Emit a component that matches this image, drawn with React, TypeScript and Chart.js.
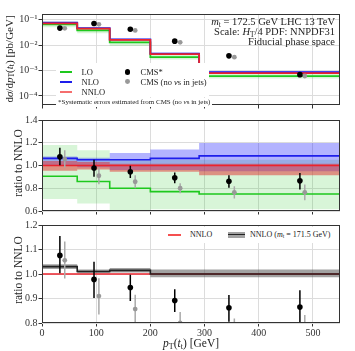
import React, { useEffect, useRef } from "react";
import { Chart, registerables } from "chart.js";

Chart.register(...registerables);

const FONT = "'Liberation Serif', 'DejaVu Serif', serif";

// ---- data ----
const binEdges = [0, 65, 125, 200, 290, 400, 550];
const xTickValues = [0, 100, 200, 300, 400, 500];
const topTickValues = [1e-1, 1e-2, 1e-3, 1e-4];
const topTickLabels = ["10⁻¹", "10⁻²", "10⁻³", "10⁻⁴"];
const midTickValues = [0.6, 0.8, 1.0, 1.2, 1.4];
const bottomTickValues = [0.8, 0.9, 1.0, 1.1, 1.2];

// top panel, dσ/dpT [pb/GeV]
const loXsec = [0.0376, 0.0657, 0.0382, 0.0129, 0.00339, 0.0006];
const loXsecLow = [0.0294, 0.0512, 0.0295, 0.0095, 0.0027, 0.00049];
const loXsecHigh = [0.0487, 0.0857, 0.0504, 0.0169, 0.00462, 0.00084];
const nloXsec = [0.0457, 0.0772, 0.0466, 0.0169, 0.00468, 0.00087];
const nloXsecLow = [0.0424, 0.0726, 0.0435, 0.0155, 0.00422, 0.00076];
const nloXsecHigh = [0.0468, 0.0784, 0.0474, 0.0179, 0.00502, 0.00096];
const nnloXsec = [0.0437, 0.0726, 0.0444, 0.0161, 0.0044, 0.0008];
const nnloXsecLow = [0.0418, 0.069, 0.0426, 0.0152, 0.00416, 0.00073];
const nnloXsecHigh = [0.0450, 0.0748, 0.0453, 0.0163, 0.00447, 0.00081];
const cmsXsec = [0.047, 0.071, 0.042, 0.0144, 0.0038, 0.00069];
const cmsNoNuXsec = [0.0461, 0.0661, 0.0381, 0.0129, 0.00336, 0.00061];

// ratio panel
const loRatio = [0.86, 0.905, 0.86, 0.8, 0.77, 0.75];
const loRatioLow = [0.673, 0.705, 0.665, 0.59, 0.615, 0.615];
const loRatioHigh = [1.114, 1.18, 1.135, 1.05, 1.05, 1.05];
const nloRatio = [1.045, 1.063, 1.05, 1.05, 1.063, 1.085];
const nloRatioLow = [0.97, 1.0, 0.985, 0.96, 0.96, 0.95];
const nloRatioHigh = [1.07, 1.08, 1.068, 1.11, 1.14, 1.198];
const nnloRatio = [1.0, 1.0, 1.0, 1.0, 1.0, 1.0];
const nnloRatioLow = [0.96, 0.953, 0.965, 0.945, 0.945, 0.915];
const nnloRatioHigh = [1.03, 1.04, 1.03, 1.015, 1.015, 1.015];
const nnlo1715Ratio = [1.037, 1.03, 1.01, 1.015, 1.0, 1.0];
const nnlo1715Low = [1.026, 1.02, 1.003, 1.006, 0.987, 0.987];
const nnlo1715High = [1.048, 1.04, 1.018, 1.025, 1.018, 1.018];

// CMS data
const cmsX = [33, 96, 163, 245, 345, 476];
const cmsRatio = [1.076, 0.978, 0.945, 0.892, 0.862, 0.865];
const cmsRatioLow = [1.003, 0.902, 0.89, 0.845, 0.805, 0.79];
const cmsRatioHigh = [1.155, 1.05, 0.997, 0.938, 0.914, 0.934];
const cmsNoNuX = [42, 105, 172, 255, 355, 485];
const cmsNoNuRatio = [1.056, 0.91, 0.857, 0.8, 0.764, 0.764];
const cmsNoNuLow = [0.982, 0.835, 0.8, 0.755, 0.71, 0.695];
const cmsNoNuHigh = [1.133, 0.983, 0.915, 0.845, 0.818, 0.833];

// ---- colours ----
const GREEN = "rgb(30,200,30)";
const BLUE = "rgb(30,30,235)";
const RED = "rgb(235,35,45)";
const GREEN_BAND = "rgba(40,200,40,0.18)";
const BLUE_BAND = "rgba(20,20,255,0.32)";
const RED_BAND = "rgba(225,45,45,0.5)";
const GREY_BAND = "rgba(70,70,70,0.5)";
const GRID = "#dcdcdc";

// ---- helpers ----
function stepData(values: number[]) {
  const pts = values.map((v, i) => ({ x: binEdges[i], y: v }));
  pts.push({ x: binEdges[binEdges.length - 1], y: values[values.length - 1] });
  return pts;
}
function pointData(xs: number[], ys: number[]) {
  return xs.map((x, i) => ({ x, y: ys[i] }));
}
function errorData(xs: number[], lo: number[], hi: number[]) {
  const pts: any[] = [];
  xs.forEach((x, i) => {
    pts.push({ x, y: lo[i] }, { x, y: hi[i] }, { x, y: null });
  });
  return pts;
}
function band(lo: number[], hi: number[], color: string, order: number) {
  return [
    { data: stepData(hi), stepped: "after", borderWidth: 0, borderColor: "transparent", pointRadius: 0, fill: "+1", backgroundColor: color, order },
    { data: stepData(lo), stepped: "after", borderWidth: 0, borderColor: "transparent", pointRadius: 0, fill: false, order },
  ];
}
function line(values: number[], color: string, order: number, width = 1.6) {
  return { data: stepData(values), stepped: "after", borderColor: color, borderWidth: width, pointRadius: 0, fill: false, order };
}
function points(xs: number[], ys: number[], color: string, r: number, order: number) {
  return { data: pointData(xs, ys), showLine: false, pointRadius: r, pointBackgroundColor: color, pointBorderWidth: 0, borderColor: color, order };
}
function errors(xs: number[], lo: number[], hi: number[], color: string, order: number) {
  return { data: errorData(xs, lo, hi), borderColor: color, borderWidth: 1.5, pointRadius: 0, spanGaps: false, fill: false, order };
}

const framePlugin = {
  id: "frame",
  afterDatasetsDraw(chart: any) {
    const { ctx, chartArea } = chart;
    const l = Math.round(chartArea.left) + 0.5;
    const t = Math.round(chartArea.top) + 0.5;
    const r = Math.round(chartArea.right) - 0.5;
    const b = Math.round(chartArea.bottom) - 0.5;
    ctx.save();
    ctx.strokeStyle = "#333";
    ctx.lineWidth = 1;
    ctx.strokeRect(l, t, r - l, b - t);
    ctx.restore();
  },
};

type PanelOpts = {
  datasets: any[];
  log?: boolean;
  yMin: number;
  yMax: number;
  yTicks: number[];
  yLabel: (v: number, i: number) => string;
  showX: boolean;
  padTop: number;
  xHeight: number;
};

function makeConfig(o: PanelOpts): any {
  return {
    type: "line",
    data: { datasets: o.datasets },
    options: {
      responsive: false,
      animation: false,
      events: [],
      layout: { padding: { top: o.padTop, right: 15, left: 0, bottom: 0 } },
      plugins: { legend: { display: false }, tooltip: { enabled: false } },
      scales: {
        x: {
          type: "linear",
          min: 0,
          max: 550,
          afterBuildTicks: (s: any) => {
            s.ticks = xTickValues.map((v) => ({ value: v }));
          },
          afterFit: (s: any) => {
            s.height = o.xHeight;
          },
          ticks: {
            display: o.showX,
            autoSkip: false,
            maxRotation: 0,
            padding: 1,
            color: "#333",
            font: { family: FONT, size: 10 },
            callback: (v: any) => String(v),
          },
          grid: { color: GRID, lineWidth: 1, drawTicks: true, tickLength: 3.5, tickColor: "#333", tickWidth: 1 },
          border: { display: false },
        },
        y: {
          type: o.log ? "logarithmic" : "linear",
          min: o.yMin,
          max: o.yMax,
          afterBuildTicks: (s: any) => {
            s.ticks = o.yTicks.map((v) => ({ value: v }));
          },
          afterFit: (s: any) => {
            s.width = 42;
          },
          ticks: {
            autoSkip: false,
            padding: 1,
            color: "#333",
            font: { family: FONT, size: 10 },
            callback: (v: any, i: number) => o.yLabel(v, i),
          },
          grid: { color: GRID, lineWidth: 1, drawTicks: true, tickLength: 3.5, tickColor: "#333", tickWidth: 1 },
          border: { display: false },
        },
      },
    },
    plugins: [framePlugin],
  };
}

const topDatasets = [
  ...band(loXsecLow, loXsecHigh, GREEN_BAND, 30),
  ...band(nloXsecLow, nloXsecHigh, BLUE_BAND, 29),
  ...band(nnloXsecLow, nnloXsecHigh, RED_BAND, 28),
  line(loXsec, GREEN, 20, 1.8),
  line(nloXsec, BLUE, 19, 1.8),
  line(nnloXsec, RED, 18, 1.8),
  points(cmsNoNuX, cmsNoNuXsec, "#999", 2.4, 4),
  points(cmsX, cmsXsec, "#000", 2.8, 2),
];

const midDatasets = [
  ...band(loRatioLow, loRatioHigh, GREEN_BAND, 30),
  ...band(nloRatioLow, nloRatioHigh, BLUE_BAND, 29),
  ...band(nnloRatioLow, nnloRatioHigh, RED_BAND, 28),
  line(loRatio, GREEN, 20),
  line(nloRatio, BLUE, 19),
  line(nnloRatio, RED, 18),
  errors(cmsNoNuX, cmsNoNuLow, cmsNoNuHigh, "#aaa", 5),
  points(cmsNoNuX, cmsNoNuRatio, "#999", 2.4, 4),
  errors(cmsX, cmsRatioLow, cmsRatioHigh, "#000", 3),
  points(cmsX, cmsRatio, "#000", 2.8, 2),
];

const bottomDatasets = [
  ...band(nnlo1715Low, nnlo1715High, GREY_BAND, 30),
  line(nnloRatio, RED, 19),
  line(nnlo1715Ratio, "#222", 18, 1.6),
  errors(cmsNoNuX, cmsNoNuLow, cmsNoNuHigh, "#aaa", 5),
  points(cmsNoNuX, cmsNoNuRatio, "#999", 2.4, 4),
  errors(cmsX, cmsRatioLow, cmsRatioHigh, "#000", 3),
  points(cmsX, cmsRatio, "#000", 2.8, 2),
];

const subStyle: React.CSSProperties = { fontSize: "0.7em", lineHeight: 0, verticalAlign: "-0.25em" };

function Panel({ top, height, config }: { top: number; height: number; config: any }) {
  const ref = useRef<HTMLCanvasElement | null>(null);
  useEffect(() => {
    if (!ref.current) return;
    const chart = new Chart(ref.current, config);
    return () => chart.destroy();
  }, [config]);
  return (
    <canvas
      ref={ref}
      width={355}
      height={height}
      style={{ position: "absolute", left: 0, top, width: 355, height }}
    />
  );
}

const topConfig = makeConfig({
  datasets: topDatasets,
  log: true,
  yMin: Math.pow(10, -4.355),
  yMax: Math.pow(10, -0.774),
  yTicks: topTickValues,
  yLabel: (v) => {
    const idx = topTickValues.findIndex((t) => Math.abs(Math.log10(t) - Math.log10(v)) < 1e-6);
    return idx >= 0 ? topTickLabels[idx] : "";
  },
  showX: false,
  padTop: 14,
  xHeight: 3.3,
});

const midConfig = makeConfig({
  datasets: midDatasets,
  yMin: 0.6,
  yMax: 1.4,
  yTicks: midTickValues,
  yLabel: (v) => Number(v).toFixed(1),
  showX: false,
  padTop: 8,
  xHeight: 3.7,
});

const bottomConfig = makeConfig({
  datasets: bottomDatasets,
  yMin: 0.8,
  yMax: 1.2,
  yTicks: bottomTickValues,
  yLabel: (v) => Number(v).toFixed(1),
  showX: true,
  padTop: 7,
  xHeight: 28,
});

function abs(style: React.CSSProperties): React.CSSProperties {
  return { position: "absolute", whiteSpace: "nowrap", ...style };
}

function VTitle({ cx, cy, children, size = 11.5 }: { cx: number; cy: number; children: any; size?: number }) {
  return (
    <div
      style={abs({
        left: cx,
        top: cy,
        transform: "translate(-50%, -50%) rotate(-90deg)",
        fontSize: size,
        color: "#222",
        lineHeight: 1,
      })}
    >
      {children}
    </div>
  );
}

function LegendText({ x, y, size, children }: { x: number; y: number; size: number; children: any }) {
  return (
    <div style={abs({ left: x, top: y - size * 0.6, fontSize: size, lineHeight: `${size * 1.2}px`, color: "#222" })}>
      {children}
    </div>
  );
}

export default function App() {
  return (
    <div
      style={{
        position: "fixed",
        left: 0,
        top: 0,
        width: 355,
        height: 351,
        background: "#fff",
        fontFamily: FONT,
        overflow: "hidden",
      }}
    >
      <Panel top={0} height={112} config={topConfig} />
      <Panel top={112} height={106} config={midConfig} />
      <Panel top={218} height={133} config={bottomConfig} />

      {/* top-right annotation */}
      <div style={abs({ right: 20, top: 16.5, textAlign: "right", fontSize: 10.5, lineHeight: "10px", color: "#222" })}>
        <div>
          <i>m</i>
          <sub style={subStyle}>t</sub> = 172.5 GeV LHC 13 TeV
        </div>
        <div>
          Scale: <i>H</i>
          <sub style={subStyle}>T</sub>/4 PDF: NNPDF31
        </div>
        <div>Fiducial phase space</div>
      </div>

      {/* top legend */}
      <div style={abs({ left: 56, top: 63, width: 153, height: 34, background: "#fff" })} />
      <div style={abs({ left: 60, top: 71, width: 12, height: 1.5, background: GREEN })} />
      <div style={abs({ left: 60, top: 81, width: 12, height: 1.5, background: BLUE })} />
      <div style={abs({ left: 60, top: 91, width: 12, height: 1.5, background: "rgb(245,110,110)" })} />
      <LegendText x={81.5} y={71.7} size={8.5}>LO</LegendText>
      <LegendText x={81.5} y={81.7} size={8.5}>NLO</LegendText>
      <LegendText x={81.5} y={91.7} size={8.5}>NNLO</LegendText>
      <div style={abs({ left: 124.5, top: 69, width: 5.6, height: 5.6, borderRadius: "50%", background: "#000" })} />
      <div style={abs({ left: 125, top: 79.3, width: 4.8, height: 4.8, borderRadius: "50%", background: "#999" })} />
      <LegendText x={140.5} y={71.7} size={8.5}>CMS*</LegendText>
      <LegendText x={140.5} y={81.7} size={8.5}>
        CMS (no <i>ν</i>s in jets)
      </LegendText>

      {/* footnote */}
      <div
        style={abs({
          left: 56,
          top: 98,
          height: 9,
          padding: "0 2px",
          background: "#fff",
          fontSize: 7,
          lineHeight: "9px",
          color: "#222",
        })}
      >
        *Systematic errors estimated from CMS (no <i>ν</i>s in jets)
      </div>

      {/* bottom legend */}
      <div style={abs({ left: 163, top: 227, width: 175, height: 16, background: "#fff" })} />
      <div style={abs({ left: 168, top: 234.3, width: 13, height: 1.5, background: "rgb(245,80,80)" })} />
      <LegendText x={190} y={235} size={8}>NNLO</LegendText>
      <div style={abs({ left: 228, top: 231.5, width: 17, height: 6, background: "rgba(70,70,70,0.5)" })} />
      <div style={abs({ left: 228, top: 233.8, width: 17, height: 1.5, background: "#222" })} />
      <LegendText x={250} y={235} size={8}>
        NNLO (<i>m</i>
        <sub style={subStyle}>t</sub> = 171.5 GeV)
      </LegendText>

      {/* axis titles */}
      <VTitle cx={9} cy={59} size={11}>
        d<i>σ</i>/d<i>p</i>
        <sub style={subStyle}>T</sub>(<i>t</i>
        <sub style={subStyle}>t</sub>) [pb/GeV]
      </VTitle>
      <VTitle cx={19} cy={163}>ratio to NNLO</VTitle>
      <VTitle cx={19} cy={270}>ratio to NNLO</VTitle>
      <div style={abs({ left: 191, top: 344, transform: "translate(-50%, -50%)", fontSize: 11.5, color: "#222", lineHeight: 1 })}>
        <i>p</i>
        <sub style={subStyle}>T</sub>(<i>t</i>
        <sub style={subStyle}>t</sub>) [GeV]
      </div>
    </div>
  );
}
